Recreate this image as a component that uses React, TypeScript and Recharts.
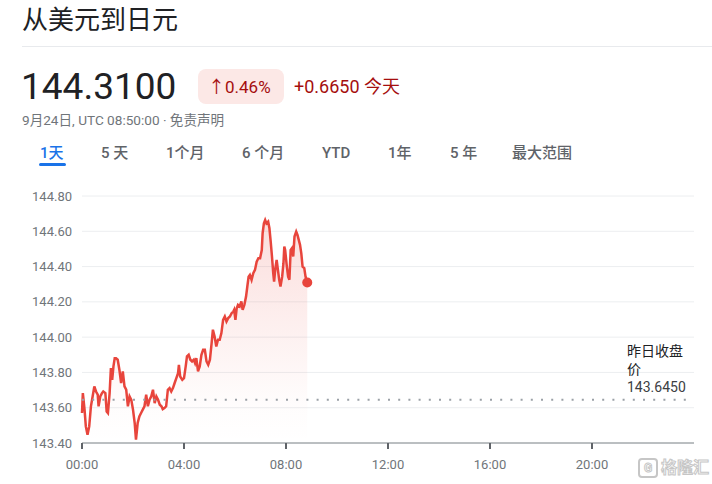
import React from 'react';
import {
  ComposedChart, Area, XAxis, YAxis, CartesianGrid, ReferenceLine, ReferenceDot,
} from 'recharts';

// minutes since 00:00 UTC
const minutes = [
  0, 2, 6, 9, 13, 17, 21, 25, 29, 33, 37, 39, 43, 47, 50, 55, 58, 61, 65, 68,
  71, 74, 77, 80, 84, 88, 92, 96, 100, 104, 108, 112, 116, 120, 124, 127, 131, 135, 139, 143,
  147, 151, 155, 159, 163, 167, 171, 175, 179, 183, 187, 190, 194, 198, 202, 206, 210, 214, 218, 222,
  226, 228, 231, 236, 240, 244, 247, 251, 255, 259, 263, 266, 269, 273, 277, 281, 285, 289, 293, 297,
  301, 305, 308, 312, 316, 320, 324, 328, 332, 336, 340, 344, 348, 352, 356, 358, 361, 364, 367, 371,
  375, 378, 382, 386, 389, 392, 395, 399, 403, 407, 411, 415, 419, 423, 425, 428, 431, 434, 438, 441,
  444, 447, 450, 452, 455, 458, 461, 464, 467, 471, 474, 476, 478, 482, 485, 488, 491, 494, 497, 500,
  504, 507, 510, 513, 516, 519, 523, 526, 530,
];

const usdJpy = [
  143.570, 143.683, 143.589, 143.494, 143.447, 143.494, 143.608, 143.664, 143.721, 143.692,
  143.674, 143.608, 143.664, 143.683, 143.692, 143.683, 143.579, 143.570, 143.683, 143.825,
  143.758, 143.834, 143.881, 143.881, 143.872, 143.815, 143.740, 143.806, 143.721, 143.702,
  143.608, 143.664, 143.645, 143.589, 143.513, 143.419, 143.513, 143.551, 143.570, 143.589,
  143.608, 143.674, 143.608, 143.645, 143.664, 143.702, 143.626, 143.664, 143.645, 143.617,
  143.608, 143.592, 143.598, 143.608, 143.702, 143.711, 143.692, 143.711, 143.740, 143.768,
  143.796, 143.843, 143.777, 143.758, 143.768, 143.834, 143.891, 143.900, 143.872, 143.862,
  143.872, 143.853, 143.881, 143.806, 143.834, 143.900, 143.928, 143.928, 143.862, 143.843,
  143.872, 143.966, 144.042, 144.004, 143.947, 143.985, 143.985, 144.023, 144.098, 144.117,
  144.089, 144.108, 144.117, 144.136, 144.145, 144.155, 144.098, 144.164, 144.183, 144.174,
  144.202, 144.155, 144.183, 144.230, 144.287, 144.343, 144.353, 144.325, 144.362, 144.381,
  144.428, 144.447, 144.447, 144.494, 144.589, 144.645, 144.664, 144.645, 144.655, 144.617,
  144.542, 144.457, 144.362, 144.315, 144.391, 144.438, 144.381, 144.325, 144.287, 144.343,
  144.419, 144.513, 144.494, 144.400, 144.343, 144.325, 144.494, 144.504, 144.457, 144.570,
  144.598, 144.579, 144.551, 144.523, 144.475, 144.400, 144.391, 144.343, 144.310,
];

const xTicks = [0, 240, 480, 720, 960, 1200];
const yTicks = [143.4, 143.6, 143.8, 144.0, 144.2, 144.4, 144.6, 144.8];
const previousClose = 143.645;
const ranges = ['1天', '5 天', '1个月', '6 个月', 'YTD', '1年', '5 年', '最大范围'];
const rangeX = [40, 101, 166, 242, 322, 388, 450, 512];

const RED = '#e8453c';
const GRAY = '#70757a';
const FONT = 'Roboto, "Noto Sans CJK SC", sans-serif';

const data = minutes.map((m, i) => ({ m, v: usdJpy[i] }));
const fmtTime = (m: number) => `${String(Math.floor(m / 60)).padStart(2, '0')}:00`;

const App: React.FC = () => {
  const last = minutes.length - 1;
  return (
    <div style={{ position: 'absolute', left: 0, top: 0, width: 712, height: 484, background: '#fff', fontFamily: FONT, overflow: 'hidden' }}>
      <div style={{ position: 'absolute', left: 22, top: 3, fontSize: 26, color: '#202124', lineHeight: '34px' }}>从美元到日元</div>
      <div style={{ position: 'absolute', left: 22, top: 46, width: 690, height: 1, background: '#e8eaed' }} />
      <div style={{ position: 'absolute', left: 21, top: 65, fontSize: 37, color: '#202124', lineHeight: '44px' }}>144.3100</div>
      <div style={{ position: 'absolute', left: 198, top: 69, width: 86, height: 35, borderRadius: 8, background: '#fce8e6' }} />
      <div style={{ position: 'absolute', left: 208, top: 74, fontSize: 17, color: '#a50e0e', lineHeight: '26px' }}>↑0.46%</div>
      <div style={{ position: 'absolute', left: 294, top: 74, fontSize: 18, color: '#a50e0e', lineHeight: '26px' }}>+0.6650 今天</div>
      <div style={{ position: 'absolute', left: 22, top: 111, fontSize: 13.6, color: GRAY, lineHeight: '18px' }}>9月24日, UTC 08:50:00 · 免责声明</div>
      {ranges.map((r, i) => (
        <div key={r} style={{ position: 'absolute', left: rangeX[i], top: 143, fontSize: 15, fontWeight: 500, lineHeight: '20px', color: i === 0 ? '#1a73e8' : '#5f6368' }}>{r}</div>
      ))}
      <div style={{ position: 'absolute', left: 39, top: 163, width: 27, height: 3, borderRadius: 2, background: '#1a73e8' }} />

      <div style={{ position: 'absolute', left: 0, top: 0 }}>
        <ComposedChart width={712} height={484} data={data} margin={{ top: 196, right: 18, left: 22, bottom: 11 }}>
          <defs>
            <linearGradient id="fillRed" x1="0" y1="0" x2="0" y2="1">
              <stop offset="0%" stopColor={RED} stopOpacity={0.3} />
              <stop offset="80%" stopColor={RED} stopOpacity={0.03} />
              <stop offset="100%" stopColor={RED} stopOpacity={0} />
            </linearGradient>
          </defs>
          <CartesianGrid vertical={false} stroke="#eceef0" />
          <XAxis
            dataKey="m"
            type="number"
            domain={[0, 1440]}
            ticks={xTicks}
            tickFormatter={fmtTime}
            height={30}
            axisLine={{ stroke: '#80868b' }}
            tickLine={{ stroke: '#5f6368', strokeWidth: 2 }}
            tickSize={6}
            tickMargin={11}
            tick={{ fill: GRAY, fontSize: 13, fontFamily: FONT }}
          />
          <YAxis
            type="number"
            domain={[143.4, 144.8]}
            ticks={yTicks}
            tickFormatter={(v: number) => v.toFixed(2)}
            width={60}
            axisLine={false}
            tickLine={false}
            tickSize={6}
            tickMargin={4}
            tick={{ fill: GRAY, fontSize: 13, fontFamily: FONT }}
          />
          <ReferenceLine y={previousClose} stroke="#9aa0a6" strokeWidth={2} strokeDasharray="2 8.2" />
          <Area
            type="linear"
            dataKey="v"
            stroke={RED}
            strokeWidth={2.5}
            fill="url(#fillRed)"
            dot={false}
            activeDot={false}
            isAnimationActive={false}
          />
          <ReferenceDot x={minutes[last]} y={usdJpy[last]} r={5} fill={RED} stroke="none" />
        </ComposedChart>
      </div>

      <div style={{ position: 'absolute', left: 627, top: 342, fontSize: 14, color: '#202124', lineHeight: '18px' }}>
        昨日收盘<br />价<br /><span style={{ color: '#3c4043' }}>{previousClose.toFixed(4)}</span>
      </div>

      <div style={{ position: 'absolute', left: 638, top: 456, height: 24, display: 'flex', alignItems: 'center', whiteSpace: 'nowrap', color: '#fff', fontSize: 16, lineHeight: '24px', fontWeight: 700, WebkitTextStroke: '1px #c6c6c6' }}>
        <span style={{ display: 'inline-block', width: 16, height: 16, border: '2px solid #c6c6c6', borderRadius: 4, fontSize: 12, lineHeight: '16px', textAlign: 'center', marginRight: 3 }}>G</span>
        <span>格隆汇</span>
      </div>
    </div>
  );
};

export default App;
